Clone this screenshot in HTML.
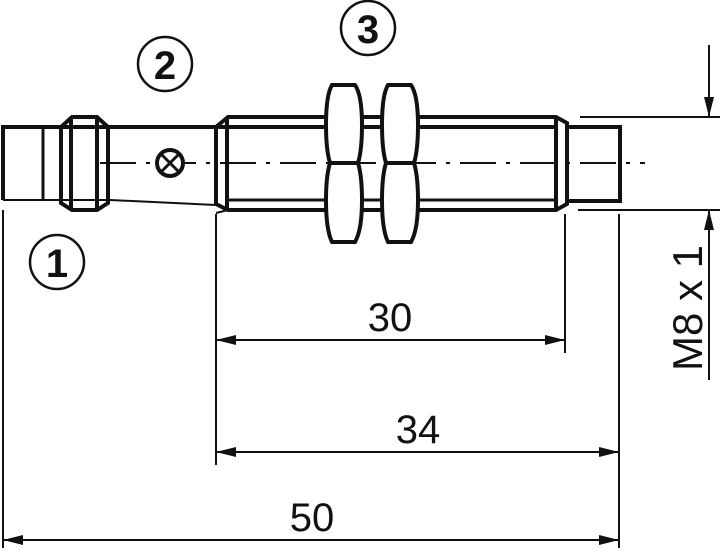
<!DOCTYPE html>
<html><head><meta charset="utf-8"><style>html,body{margin:0;padding:0;background:#fff}svg{display:block}</style></head><body>
<svg width="720" height="549" viewBox="0 0 720 549" xmlns="http://www.w3.org/2000/svg" font-family="Liberation Sans, sans-serif">
<defs>
<marker id="a" viewBox="0 0 20 10" refX="20" refY="5" markerWidth="20" markerHeight="10" markerUnits="userSpaceOnUse" orient="auto-start-reverse"><path d="M0,0 L20,5 L0,10 Z" fill="#111"/></marker>
</defs>
<g stroke="#111" fill="none" stroke-width="4">
<path d="M3,200 L3,127 L62,127"/>
<path d="M3,200 L62,200" stroke-width="2"/>
<line x1="43" y1="127" x2="43" y2="200" stroke-width="3"/>
<path d="M61,127 L61,203 L72,210 L97,210 L108,203 L108,127 L97,117 L72,117 Z"/>
<line x1="71" y1="117" x2="71" y2="210"/>
<line x1="97" y1="117" x2="97" y2="210"/>
<line x1="61" y1="127" x2="108" y2="127"/>
<line x1="61" y1="200" x2="108" y2="200" stroke-width="2"/>
<line x1="108" y1="127" x2="216" y2="127"/>
<path d="M110,200 L216,205" stroke-width="2"/>
<path d="M216,127 L228,117 L556,117 L567,123 L567,204 L556,210 L228,210 L216,204 Z"/>
<line x1="216" y1="127" x2="556" y2="127"/>
<line x1="228" y1="200" x2="556" y2="200" stroke-width="3"/>
<line x1="227" y1="117" x2="227" y2="210"/>
<line x1="556" y1="117" x2="556" y2="210"/>
<path d="M228,210 L216,213" stroke-width="2"/>
<path d="M567,127 L620,127 L620,201 L567,201"/>
</g>
<g stroke="#111" fill="#fff" stroke-width="4">
<path d="M332,85 L355,85 Q362,95 362,125 Q362,150 358,163 Q362,176 362,200 Q362,230 355,242 L332,242 Q326,230 326,200 Q326,176 330,163 Q326,150 326,125 Q326,95 332,85 Z"/>
<line x1="330" y1="163" x2="358" y2="163"/>
<path d="M388,85 L411,85 Q418,95 418,125 Q418,150 414,163 Q418,176 418,200 Q418,230 411,242 L388,242 Q382,230 382,200 Q382,176 386,163 Q382,150 382,125 Q382,95 388,85 Z"/>
<line x1="386" y1="163" x2="414" y2="163"/>
</g>
<line x1="100" y1="163" x2="645" y2="163" stroke="#111" stroke-width="2" stroke-dasharray="36,10,4,10"/>
<circle cx="170" cy="163" r="13" fill="#fff" stroke="#111" stroke-width="4"/>
<path d="M161,154 L179,172 M179,154 L161,172" stroke="#111" stroke-width="3"/>
<g stroke="#111" stroke-width="2.5" fill="none">
<circle cx="57" cy="262" r="27"/><circle cx="165" cy="64" r="27"/><circle cx="368" cy="28" r="27"/>
</g>
<g font-size="40" font-weight="bold" text-anchor="middle" fill="#111">
<text x="57" y="277">1</text><text x="165" y="79">2</text><text x="368" y="43">3</text>
</g>
<g stroke="#111" stroke-width="2">
<line x1="3" y1="210" x2="3" y2="548"/>
<line x1="216" y1="214" x2="216" y2="465"/>
<line x1="565" y1="214" x2="565" y2="353"/>
<line x1="619" y1="214" x2="619" y2="548"/>
<line x1="580" y1="117" x2="720" y2="117"/>
<line x1="578" y1="210" x2="720" y2="210"/>
<line x1="709" y1="45" x2="709" y2="117" marker-end="url(#a)"/>
<line x1="709" y1="380" x2="709" y2="210" marker-end="url(#a)"/>
<line x1="216" y1="340" x2="565" y2="340" marker-start="url(#a)" marker-end="url(#a)"/>
<line x1="216" y1="452" x2="619" y2="452" marker-start="url(#a)" marker-end="url(#a)"/>
<line x1="3" y1="540" x2="619" y2="540" marker-start="url(#a)" marker-end="url(#a)"/>
</g>
<g font-size="40" fill="#111" text-anchor="middle">
<text x="390" y="331">30</text>
<text x="418" y="443">34</text>
<text x="312" y="531">50</text>
<text font-size="42" transform="translate(702,308) rotate(-90)">M8 x 1</text>
</g>
</svg>
</body></html>
